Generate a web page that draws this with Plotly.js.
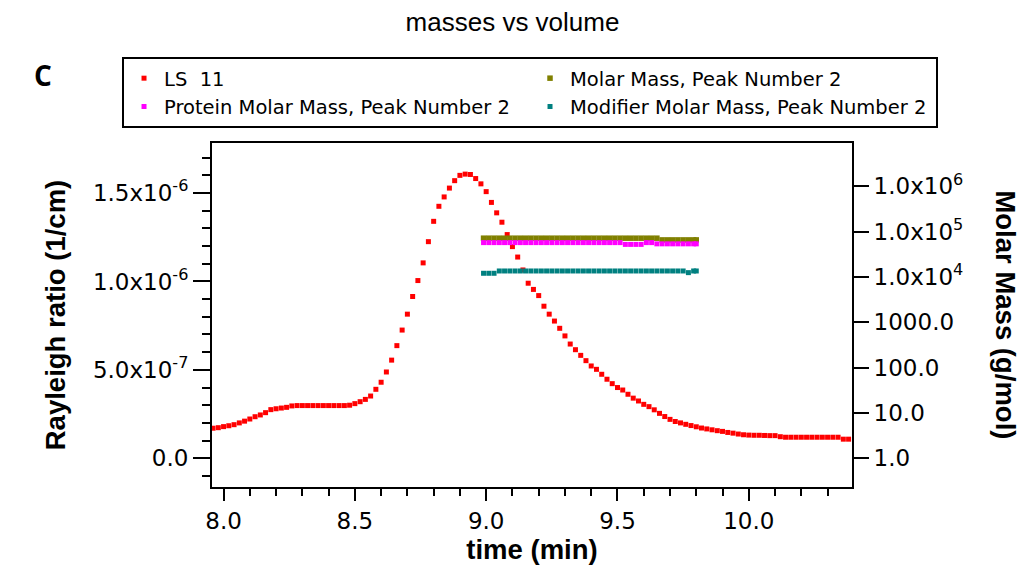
<!DOCTYPE html>
<html>
<head>
<meta charset="utf-8">
<script src="https://cdn.plot.ly/plotly-3.0.1.min.js"></script>
<style>html,body{margin:0;padding:0;background:#fff;}#chart{width:1025px;height:571px;}</style>
</head>
<body>
<div id="chart"></div>
<script>
// time (min) for the LS 11 detector trace
const timeLS = [7.96,7.98,8.00,8.02,8.04,8.06,8.08,8.10,8.12,8.14,8.16,8.18,8.20,8.22,8.24,8.26,8.28,8.30,8.32,8.34,8.36,8.38,8.40,8.42,8.44,8.46,8.48,8.50,8.52,8.54,8.56,8.58,8.60,8.62,8.64,8.66,8.68,8.70,8.72,8.74,8.76,8.78,8.80,8.82,8.84,8.86,8.88,8.90,8.92,8.94,8.96,8.98,9.00,9.02,9.04,9.06,9.08,9.10,9.12,9.14,9.16,9.18,9.20,9.22,9.24,9.26,9.28,9.30,9.32,9.34,9.36,9.38,9.40,9.42,9.44,9.46,9.48,9.50,9.52,9.54,9.56,9.58,9.60,9.62,9.64,9.66,9.68,9.70,9.72,9.74,9.76,9.78,9.80,9.82,9.84,9.86,9.88,9.90,9.92,9.94,9.96,9.98,10.00,10.02,10.04,10.06,10.08,10.10,10.12,10.14,10.16,10.18,10.20,10.22,10.24,10.26,10.28,10.30,10.32,10.34,10.36,10.38];
// Rayleigh ratio, in units of 1e-6 1/cm
const rayleighE6 = [0.170,0.173,0.179,0.184,0.190,0.200,0.210,0.222,0.235,0.245,0.258,0.275,0.280,0.284,0.288,0.296,0.298,0.298,0.298,0.298,0.298,0.298,0.298,0.298,0.298,0.298,0.300,0.309,0.320,0.333,0.352,0.390,0.430,0.488,0.555,0.637,0.725,0.815,0.915,1.005,1.105,1.225,1.340,1.425,1.478,1.528,1.570,1.600,1.607,1.605,1.582,1.552,1.508,1.447,1.388,1.335,1.265,1.197,1.138,1.065,0.990,0.955,0.920,0.860,0.815,0.776,0.735,0.692,0.646,0.614,0.582,0.552,0.522,0.503,0.475,0.447,0.422,0.400,0.386,0.362,0.340,0.324,0.305,0.292,0.274,0.254,0.236,0.220,0.208,0.200,0.192,0.185,0.178,0.171,0.166,0.161,0.156,0.152,0.146,0.142,0.137,0.133,0.131,0.130,0.130,0.129,0.128,0.128,0.122,0.119,0.119,0.119,0.119,0.119,0.119,0.119,0.119,0.119,0.119,0.119,0.108,0.108];

// time (min) for the molar mass traces (peak 2)
const timeMass = [8.99,9.01,9.03,9.05,9.07,9.09,9.11,9.13,9.15,9.17,9.19,9.21,9.23,9.25,9.27,9.29,9.31,9.33,9.35,9.37,9.39,9.41,9.43,9.45,9.47,9.49,9.51,9.53,9.55,9.57,9.59,9.61,9.63,9.65,9.67,9.69,9.71,9.73,9.75,9.77,9.79,9.80];
const molarMass = [72000,72000,72000,72000,72000,72000,72000,72000,72000,72000,72000,72000,72000,72000,72000,72000,72000,72000,72000,72000,72000,72000,72000,72000,72000,72000,72000,72000,72000,72000,72000,72000,72000,72000,66000,66000,66000,66000,66000,66000,66000,66000];
const proteinMass = [57500,57500,57500,57500,57500,57500,57500,57500,57500,57500,57500,57500,57500,57500,57500,57500,57500,57500,57500,57500,57500,57500,57500,57500,57500,57500,57500,52500,52500,52500,52500,57500,57500,54000,54000,54000,54000,54000,54000,54000,54000,54000];
const modifierMass = [12100,12100,12100,13600,13600,13600,13600,13600,13600,13600,13600,13600,13600,13600,13600,13600,13600,13600,13600,13600,13600,13600,13600,13600,13600,13600,13600,13600,13600,13600,13600,13600,13600,13600,13600,13600,13600,13600,13600,12500,13600,13600];

const seriesNames = ['LS  11','Molar Mass, Peak Number 2','Protein Molar Mass, Peak Number 2','Modifier Molar Mass, Peak Number 2'];
const seriesColors = ['#ff0000','#808000','#ff00ff','#008080'];

const leftTickVals = [0, 0.5, 1.0, 1.5];
const leftTickText = ['0.0','5.0x10<sup>-7</sup>','1.0x10<sup>-6</sup>','1.5x10<sup>-6</sup>'];
const rightTickVals = [1, 10, 100, 1000, 10000, 100000, 1000000];
const rightTickText = ['1.0','10.0','100.0','1000.0','1.0x10<sup>4</sup>','1.0x10<sup>5</sup>','1.0x10<sup>6</sup>'];

const FONT = 'Liberation Sans, Arial, sans-serif';
const TICKFONT = 'DejaVu Sans, Verdana, sans-serif';

const traces = [
  {x: timeLS, y: rayleighE6, name: seriesNames[0], type: 'scatter', mode: 'markers', yaxis: 'y',
   marker: {symbol: 'square', size: 5, color: seriesColors[0], line: {width: 0}}},
  {x: timeMass, y: molarMass, name: seriesNames[1], type: 'scatter', mode: 'markers', yaxis: 'y2',
   marker: {symbol: 'square', size: 5.5, color: seriesColors[1], line: {width: 0}}},
  {x: timeMass, y: proteinMass, name: seriesNames[2], type: 'scatter', mode: 'markers', yaxis: 'y2',
   marker: {symbol: 'square', size: 5, color: seriesColors[2], line: {width: 0}}},
  {x: timeMass, y: modifierMass, name: seriesNames[3], type: 'scatter', mode: 'markers', yaxis: 'y2',
   marker: {symbol: 'square', size: 5, color: seriesColors[3], line: {width: 0}}}
];

const layout = {
  width: 1025, height: 571,
  paper_bgcolor: '#ffffff', plot_bgcolor: '#ffffff',
  margin: {l: 212, r: 173, t: 143, b: 84, autoexpand: false},
  font: {family: FONT, color: '#000000', size: 22},
  title: {text: 'masses vs volume', font: {family: FONT, size: 26, color: '#000'},
          xref: 'container', x: 0.5, xanchor: 'center', yref: 'container', y: 0.962, yanchor: 'middle'},
  showlegend: true,
  legend: {orientation: 'h', xref: 'paper', yref: 'paper', x: -0.1406, y: 1.25, xanchor: 'left', yanchor: 'top',
           bordercolor: '#000', borderwidth: 2, bgcolor: '#fff', font: {family: TICKFONT, size: 19.5, color: '#000'},
           entrywidth: 361, entrywidthmode: 'pixels', itemsizing: 'trace', traceorder: 'normal'},
  xaxis: {range: [7.956, 10.393], tickmode: 'linear', tick0: 8, dtick: 0.5, tickformat: '.1f',
          ticks: 'outside', ticklen: 12, tickwidth: 2, tickcolor: '#000',
          minor: {ticks: 'outside', tick0: 8, dtick: 0.1, ticklen: 7, tickwidth: 2, tickcolor: '#000', showgrid: false},
          showline: true, linewidth: 2, linecolor: '#000', mirror: true, showgrid: false, zeroline: false,
          tickfont: {family: TICKFONT, size: 23, color: '#000'},
          title: {text: '<b>time (min)</b>', font: {family: FONT, size: 27.5, color: '#000'}, standoff: 4}},
  yaxis: {range: [-0.1625, 1.783], tickmode: 'array', tickvals: leftTickVals, ticktext: leftTickText,
          ticks: 'outside', ticklen: 17, tickwidth: 2, tickcolor: '#000',
          minor: {tickmode: 'linear', tick0: 0, dtick: 0.1, ticks: 'outside', ticklen: 8, tickwidth: 2, tickcolor: '#000', showgrid: false},
          showline: true, linewidth: 2, linecolor: '#000', showgrid: false, zeroline: false,
          tickfont: {family: TICKFONT, size: 23, color: '#000'},
          title: {text: '<b>Rayleigh ratio (1/cm)</b>', font: {family: FONT, size: 27.5, color: '#000'}, standoff: 19}},
  yaxis2: {overlaying: 'y', side: 'right', anchor: 'x', type: 'log', range: [-0.634, 6.958],
           tickmode: 'array', tickvals: rightTickVals, ticktext: rightTickText,
           ticks: 'outside', ticklen: 15, tickwidth: 2, tickcolor: '#000',
           showline: true, linewidth: 2, linecolor: '#000', showgrid: false, zeroline: false,
           tickfont: {family: TICKFONT, size: 23, color: '#000'}},
  yaxis3: {overlaying: 'y', side: 'right', anchor: 'x', type: 'log', range: [-0.634, 6.958],
           dtick: 'D1', showticklabels: false, ticks: 'outside', ticklen: 9, tickwidth: 1.5, tickcolor: '#000',
           showline: false, showgrid: false, zeroline: false},
  annotations: [
    {text: '<b>C</b>', xref: 'paper', yref: 'paper', x: -0.264, y: 1.198, xanchor: 'center', yanchor: 'middle',
     showarrow: false, font: {family: 'Open Sans, sans-serif', size: 28, color: '#000'}},
    {text: '<b>Molar Mass (g/mol)</b>', xref: 'paper', yref: 'paper', x: 1.24, y: 0.5, xanchor: 'center', yanchor: 'middle',
     textangle: 90, showarrow: false, font: {family: FONT, size: 27.5, color: '#000'}}
  ]
};

Plotly.newPlot('chart', traces, layout, {displayModeBar: false, staticPlot: true});
</script>
</body>
</html>
